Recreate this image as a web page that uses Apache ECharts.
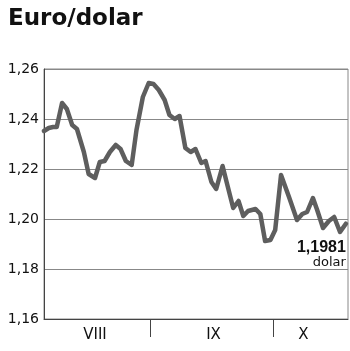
<!DOCTYPE html>
<html>
<head>
<meta charset="utf-8">
<script src="https://cdn.jsdelivr.net/npm/echarts@6/dist/echarts.min.js"></script>
<style>
html,body{margin:0;padding:0;background:#fff;}
#c{width:350px;height:351px;}
</style>
</head>
<body>
<div id="c"></div>
<script>
// Trading-day position (x) and EUR/USD rate (y)
const days = [0,0.9,1.7,2.4,3.4,4.3,5.3,6.2,7.5,8.4,9.6,10.5,11.4,12.4,13.5,14.4,15.4,16.5,17.4,18.6,19.7,20.6,21.6,22.7,23.6,24.6,25.5,26.6,27.6,28.5,29.6,30.4,31.5,32.4,33.6,34.5,35.6,36.6,37.5,38.4,39.8,40.7,41.6,42.6,43.5,44.6,46.1,47.6,48.6,49.5,50.6,51.4,52.5,53.6,54.6,55.7,56.8];
const rates = [1.2352,1.2364,1.2368,1.2368,1.2464,1.2440,1.2376,1.2360,1.2268,1.2180,1.2164,1.2228,1.2232,1.2268,1.2296,1.2280,1.2232,1.2216,1.2356,1.2488,1.2544,1.2540,1.2516,1.2476,1.2416,1.2400,1.2412,1.2284,1.2268,1.2280,1.2224,1.2232,1.2148,1.2120,1.2212,1.2136,1.2044,1.2072,1.2012,1.2032,1.2040,1.2020,1.1912,1.1916,1.1956,1.2176,1.2088,1.1996,1.2020,1.2028,1.2084,1.2036,1.1964,1.1992,1.2008,1.1948,1.1981];
const monthBoundaries = [20.06, 43.1];
const monthLabelPos = [9.6, 31.9, 48.8];
const monthLabels = ['VIII', 'IX', 'X'];
const lastValueText = '1,1981';
const unitText = 'dolar';
const title = 'Euro/dolar';

const lineData = days.map((d, i) => [d, rates[i]]);
const last = lineData[lineData.length - 1];

const chart = echarts.init(document.getElementById('c'), null, {renderer: 'canvas'});
chart.setOption({
  animation: false,
  backgroundColor: '#fff',
  title: {
    text: title, left: 3, top: 3,
    textStyle: {fontFamily: 'DejaVu Sans', fontWeight: 'bold', fontSize: 23, color: '#111'}
  },
  grid: {left: 44, right: 2, top: 69, bottom: 32, show: true, borderColor: '#888', borderWidth: 1, backgroundColor: 'transparent'},
  xAxis: {
    type: 'value', min: 0, max: 57.2,
    axisLine: {show: true, lineStyle: {color: '#444', width: 1}},
    splitLine: {show: false},
    axisTick: {show: true, customValues: monthBoundaries, length: 18, lineStyle: {color: '#444', width: 1}},
    axisLabel: {
      show: true, customValues: monthLabelPos, margin: 9,
      formatter: v => monthLabels[monthLabelPos.indexOf(v)] || '',
      fontFamily: 'DejaVu Sans', fontSize: 15, color: '#111'
    }
  },
  yAxis: {
    type: 'value', min: 1.16, max: 1.26, interval: 0.02,
    axisLine: {show: true, lineStyle: {color: '#444', width: 1}},
    axisTick: {show: false},
    splitLine: {show: true, lineStyle: {color: '#888', width: 1}},
    axisLabel: {
      margin: 5, fontFamily: 'DejaVu Sans', fontSize: 14, color: '#111',
      formatter: v => v.toFixed(2).replace('.', ',')
    }
  },
  series: [
    {
      type: 'line', data: lineData, showSymbol: false, smooth: false,
      lineStyle: {color: '#5e5e5e', width: 4.5, join: 'round', cap: 'round'},
      z: 3
    },
    {
      type: 'scatter', data: [last], symbolSize: 2, itemStyle: {color: 'rgba(0,0,0,0)'},
      silent: true, z: 4,
      label: {
        show: true, position: 'bottom', distance: 15, align: 'right', opacity: 1,
        formatter: '{a|' + lastValueText + '}\n{b|' + unitText + '}',
        rich: {
          a: {fontFamily: 'Liberation Sans', fontWeight: 'bold', fontSize: 16, lineHeight: 16, color: '#111', align: 'right'},
          b: {fontFamily: 'DejaVu Sans', fontSize: 13, lineHeight: 14, color: '#111', align: 'right'}
        }
      }
    }
  ]
});
</script>
</body>
</html>
